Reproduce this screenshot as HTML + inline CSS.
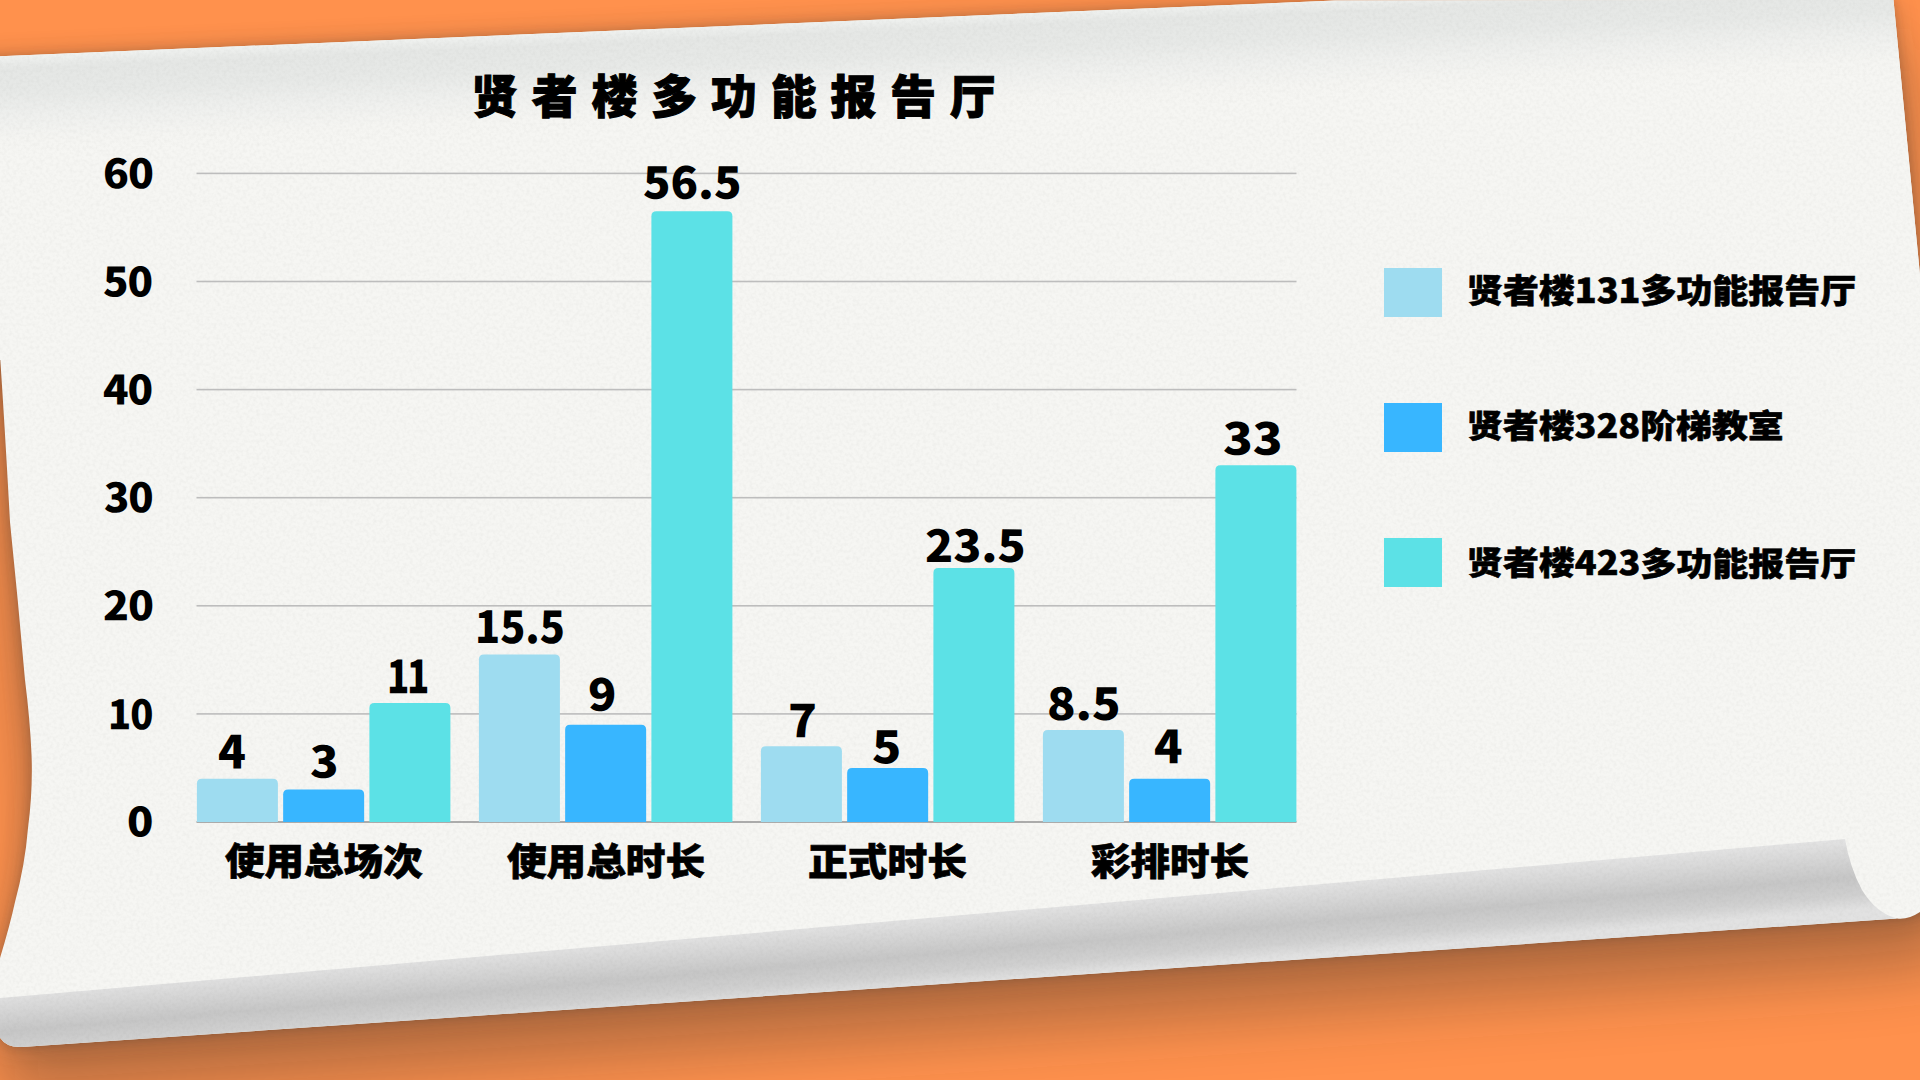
<!DOCTYPE html>
<html lang="zh-CN"><head><meta charset="utf-8"><title>贤者楼多功能报告厅</title>
<style>
html,body{margin:0;padding:0;}
body{width:1920px;height:1080px;overflow:hidden;background:#ff914d;position:relative;}
svg{position:absolute;left:0;top:0;display:block;}
h1,ul,li{margin:0;padding:0;list-style:none;font-weight:inherit;}
.t{position:absolute;display:block;white-space:nowrap;line-height:1;color:#000;transform-origin:0 0;margin:0;}
.sw{position:absolute;left:1383.8px;width:58.3px;height:49px;display:block;}
.title{font-family:'Liberation Sans','Noto Sans CJK SC',sans-serif;font-weight:900;font-size:46px;letter-spacing:14px;-webkit-text-stroke:1px #000;}
.ytick{font-family:'Noto Sans CJK SC',sans-serif;font-weight:900;font-size:41px;letter-spacing:-1px;}
.cat{font-family:'Noto Sans CJK SC',sans-serif;font-weight:900;font-size:40px;-webkit-text-stroke:0.7px #000;}
.leg{font-family:'Noto Sans CJK SC',sans-serif;font-weight:900;font-size:36px;-webkit-text-stroke:0.6px #000;}
.val{font-family:'Noto Sans CJK SC',sans-serif;font-weight:900;font-size:45px;}
</style></head><body>
<svg class="paper" width="1920" height="1080" viewBox="0 0 1920 1080">
<defs>
<filter id="sh1" x="-5%" y="-5%" width="110%" height="120%"><feGaussianBlur stdDeviation="5"/></filter>
<filter id="sh2" x="-10%" y="-10%" width="120%" height="140%"><feGaussianBlur stdDeviation="32"/></filter>
<filter id="sh3" x="-5%" y="-5%" width="110%" height="130%"><feGaussianBlur stdDeviation="12"/></filter>
<linearGradient id="topg" gradientUnits="userSpaceOnUse" x1="0" y1="57" x2="4.3" y2="156.9">
<stop offset="0" stop-color="#f0f2f0"/><stop offset="0.05" stop-color="#ebedeb"/><stop offset="0.12" stop-color="#e5e7e5"/><stop offset="0.36" stop-color="#e7e9e7"/><stop offset="0.6" stop-color="#eff0ee"/><stop offset="0.85" stop-color="#f5f5f2"/><stop offset="1" stop-color="#f6f6f3"/></linearGradient>
<linearGradient id="curlg" gradientUnits="userSpaceOnUse" x1="900" y1="917" x2="906" y2="989">
<stop offset="0" stop-color="#e4e4e4"/><stop offset="0.55" stop-color="#c6c6c6"/><stop offset="0.8" stop-color="#d0d0d0"/><stop offset="1" stop-color="#e2e2e2"/></linearGradient>
<filter id="noise" x="0" y="0" width="100%" height="100%" color-interpolation-filters="sRGB">
<feTurbulence type="fractalNoise" baseFrequency="0.3" numOctaves="2" seed="7"/>
<feColorMatrix type="matrix" values="0 0 0 0 0.35  0 0 0 0 0.35  0 0 0 0 0.33  0.1 0 0 0 -0.038"/></filter>
<clipPath id="pc"><path d="M-40,58 L1335,0.5 L1893.5,0 L1960,690 L1960,912 L1920,912 Q1908,920 1897,918.5 L22,1047 Q4,1048 -2,1034 L0,958 Q10,925 15,902 Q25,865 28,828 Q33,790 31.5,754 Q30,720 25,680 Q18,600 10,522 Q5,430 0,355 L-40,300 Z"/></clipPath>
</defs>
<rect width="1920" height="1080" fill="#ff914d"/>
<path d="M-40,58 L1335,0.5 L1893.5,0 L1960,690 L1960,912 L1920,912 Q1908,920 1897,918.5 L22,1047 Q4,1048 -2,1034 L0,958 Q10,925 15,902 Q25,865 28,828 Q33,790 31.5,754 Q30,720 25,680 Q18,600 10,522 Q5,430 0,355 L-40,300 Z" fill="#282828" opacity="0.34" filter="url(#sh2)" transform="translate(0,50)"/>
<path d="M-40,58 L1335,0.5 L1893.5,0 L1960,690 L1960,912 L1920,912 Q1908,920 1897,918.5 L22,1047 Q4,1048 -2,1034 L0,958 Q10,925 15,902 Q25,865 28,828 Q33,790 31.5,754 Q30,720 25,680 Q18,600 10,522 Q5,430 0,355 L-40,300 Z" fill="#282828" opacity="0.22" filter="url(#sh3)"/>
<path d="M-40,58 L1335,0.5 L1893.5,0 L1960,690 L1960,912 L1920,912 Q1908,920 1897,918.5 L22,1047 Q4,1048 -2,1034 L0,958 Q10,925 15,902 Q25,865 28,828 Q33,790 31.5,754 Q30,720 25,680 Q18,600 10,522 Q5,430 0,355 L-40,300 Z" fill="#282828" opacity="0.16" filter="url(#sh1)"/>
<path d="M-40,58 L1335,0.5 L1893.5,0 L1960,690 L1960,912 L1920,912 Q1908,920 1897,918.5 L22,1047 Q4,1048 -2,1034 L0,958 Q10,925 15,902 Q25,865 28,828 Q33,790 31.5,754 Q30,720 25,680 Q18,600 10,522 Q5,430 0,355 L-40,300 Z" fill="#f6f6f3"/>
<path d="M-40,58 L1335,0.5 L1893.5,0 L1920,275 L1920,360 L-40,360 Z" fill="url(#topg)"/>
<path d="M-5,998.5 L1845,839 Q1850,868 1862,890 Q1876,913 1897,918.5 L22,1047 Q4,1048 -2,1034 Z" fill="url(#curlg)"/>
<g clip-path="url(#pc)"><rect width="1920" height="1080" filter="url(#noise)"/></g>
</svg>
<main class="chart">
<h1 class="t title" style="left:472.43px;top:74.39px;transform:scale(0.9956,1.0185) rotate(.03deg)">贤者楼多功能报告厅</h1>
<svg class="plot" width="1920" height="1080" viewBox="0 0 1920 1080">
<g class="grid">
<rect x="196.5" y="821.20" width="1100.0" height="1.6" fill="#9a9a9a"/>
<rect x="196.5" y="713.10" width="1100.0" height="1.6" fill="#bdbdbd"/>
<rect x="196.5" y="605.00" width="1100.0" height="1.6" fill="#bdbdbd"/>
<rect x="196.5" y="496.90" width="1100.0" height="1.6" fill="#bdbdbd"/>
<rect x="196.5" y="388.80" width="1100.0" height="1.6" fill="#bdbdbd"/>
<rect x="196.5" y="280.70" width="1100.0" height="1.6" fill="#bdbdbd"/>
<rect x="196.5" y="172.60" width="1100.0" height="1.6" fill="#bdbdbd"/>
</g>
<g class="bars">
<path d="M196.90,822.00 V783.76 Q196.90,778.76 201.90,778.76 H272.90 Q277.90,778.76 277.90,783.76 V822.00 Z" fill="#9edcf0"/>
<path d="M283.15,822.00 V794.57 Q283.15,789.57 288.15,789.57 H359.15 Q364.15,789.57 364.15,794.57 V822.00 Z" fill="#38b6ff"/>
<path d="M369.40,822.00 V708.09 Q369.40,703.09 374.40,703.09 H445.40 Q450.40,703.09 450.40,708.09 V822.00 Z" fill="#5ce1e6"/>
<path d="M478.90,822.00 V659.44 Q478.90,654.44 483.90,654.44 H554.90 Q559.90,654.44 559.90,659.44 V822.00 Z" fill="#9edcf0"/>
<path d="M565.15,822.00 V729.71 Q565.15,724.71 570.15,724.71 H641.15 Q646.15,724.71 646.15,729.71 V822.00 Z" fill="#38b6ff"/>
<path d="M651.40,822.00 V216.24 Q651.40,211.24 656.40,211.24 H727.40 Q732.40,211.24 732.40,216.24 V822.00 Z" fill="#5ce1e6"/>
<path d="M760.90,822.00 V751.33 Q760.90,746.33 765.90,746.33 H836.90 Q841.90,746.33 841.90,751.33 V822.00 Z" fill="#9edcf0"/>
<path d="M847.15,822.00 V772.95 Q847.15,767.95 852.15,767.95 H923.15 Q928.15,767.95 928.15,772.95 V822.00 Z" fill="#38b6ff"/>
<path d="M933.40,822.00 V572.96 Q933.40,567.96 938.40,567.96 H1009.40 Q1014.40,567.96 1014.40,572.96 V822.00 Z" fill="#5ce1e6"/>
<path d="M1042.90,822.00 V735.12 Q1042.90,730.12 1047.90,730.12 H1118.90 Q1123.90,730.12 1123.90,735.12 V822.00 Z" fill="#9edcf0"/>
<path d="M1129.15,822.00 V783.76 Q1129.15,778.76 1134.15,778.76 H1205.15 Q1210.15,778.76 1210.15,783.76 V822.00 Z" fill="#38b6ff"/>
<path d="M1215.40,822.00 V470.27 Q1215.40,465.27 1220.40,465.27 H1291.40 Q1296.40,465.27 1296.40,470.27 V822.00 Z" fill="#5ce1e6"/>
</g>
</svg>
<div class="yaxis">
<span class="t ytick" style="left:126.75px;top:799.01px;transform:scale(1.0575,0.9851) rotate(.03deg)">0</span>
<span class="t ytick" style="left:108.03px;top:692.01px;transform:scale(0.9275,0.9797) rotate(.03deg)">10</span>
<span class="t ytick" style="left:102.57px;top:583.31px;transform:scale(1.0412,0.9780) rotate(.03deg)">20</span>
<span class="t ytick" style="left:103.85px;top:475.28px;transform:scale(1.0162,0.9826) rotate(.03deg)">30</span>
<span class="t ytick" style="left:103.08px;top:367.03px;transform:scale(1.0265,0.9848) rotate(.03deg)">40</span>
<span class="t ytick" style="left:102.86px;top:258.76px;transform:scale(1.0240,0.9849) rotate(.03deg)">50</span>
<span class="t ytick" style="left:102.99px;top:150.79px;transform:scale(1.0391,0.9825) rotate(.03deg)">60</span>
</div>
<div class="values">
<span class="t val" style="left:217.68px;top:725.60px;transform:scale(1.0207,1.0097) rotate(.03deg)">4</span>
<span class="t val" style="left:309.54px;top:736.87px;transform:scale(1.0424,0.9701) rotate(.03deg)">3</span>
<span class="t val" style="left:386.80px;top:650.61px;letter-spacing:-3px;transform:scale(0.8154,1.0046) rotate(.03deg)">11</span>
<span class="t val" style="left:475.03px;top:602.44px;transform:scale(0.9189,0.9791) rotate(.03deg)">15.5</span>
<span class="t val" style="left:588.47px;top:669.85px;transform:scale(1.0358,0.9716) rotate(.03deg)">9</span>
<span class="t val" style="left:642.93px;top:158.33px;transform:scale(1.0056,0.9722) rotate(.03deg)">56.5</span>
<span class="t val" style="left:788.16px;top:695.41px;transform:scale(1.0557,1.0034) rotate(.03deg)">7</span>
<span class="t val" style="left:871.54px;top:721.89px;transform:scale(1.0704,0.9834) rotate(.03deg)">5</span>
<span class="t val" style="left:925.05px;top:521.08px;transform:scale(1.0284,0.9737) rotate(.03deg)">23.5</span>
<span class="t val" style="left:1046.80px;top:678.58px;transform:scale(1.0435,0.9757) rotate(.03deg)">8.5</span>
<span class="t val" style="left:1153.82px;top:721.40px;transform:scale(1.0419,1.0049) rotate(.03deg)">4</span>
<span class="t val" style="left:1222.61px;top:413.65px;transform:scale(1.0886,0.9712) rotate(.03deg)">33</span>
</div>
<div class="xaxis">
<span class="t cat" style="left:224.97px;top:839.97px;transform:scale(0.9887,0.9480) rotate(.03deg)">使用总场次</span>
<span class="t cat" style="left:507.02px;top:839.82px;transform:scale(0.9901,0.9579) rotate(.03deg)">使用总时长</span>
<span class="t cat" style="left:808.02px;top:839.64px;transform:scale(0.9935,0.9630) rotate(.03deg)">正式时长</span>
<span class="t cat" style="left:1090.95px;top:839.75px;transform:scale(0.9885,0.9597) rotate(.03deg)">彩排时长</span>
</div>
<ul class="legend">
<li><i class="sw" style="top:267.8px;background:#9edcf0"></i><span class="t leg" style="left:1466.52px;top:270.57px;transform:scale(0.9983,0.9423) rotate(.03deg)">贤者楼131多功能报告厅</span></li>
<li><i class="sw" style="top:403.2px;background:#38b6ff"></i><span class="t leg" style="left:1466.53px;top:407.29px;transform:scale(0.9966,0.9143) rotate(.03deg)">贤者楼328阶梯教室</span></li>
<li><i class="sw" style="top:538.2px;background:#5ce1e6"></i><span class="t leg" style="left:1466.52px;top:544.49px;transform:scale(0.9983,0.9242) rotate(.03deg)">贤者楼423多功能报告厅</span></li>
</ul>
</main>
</body></html>
